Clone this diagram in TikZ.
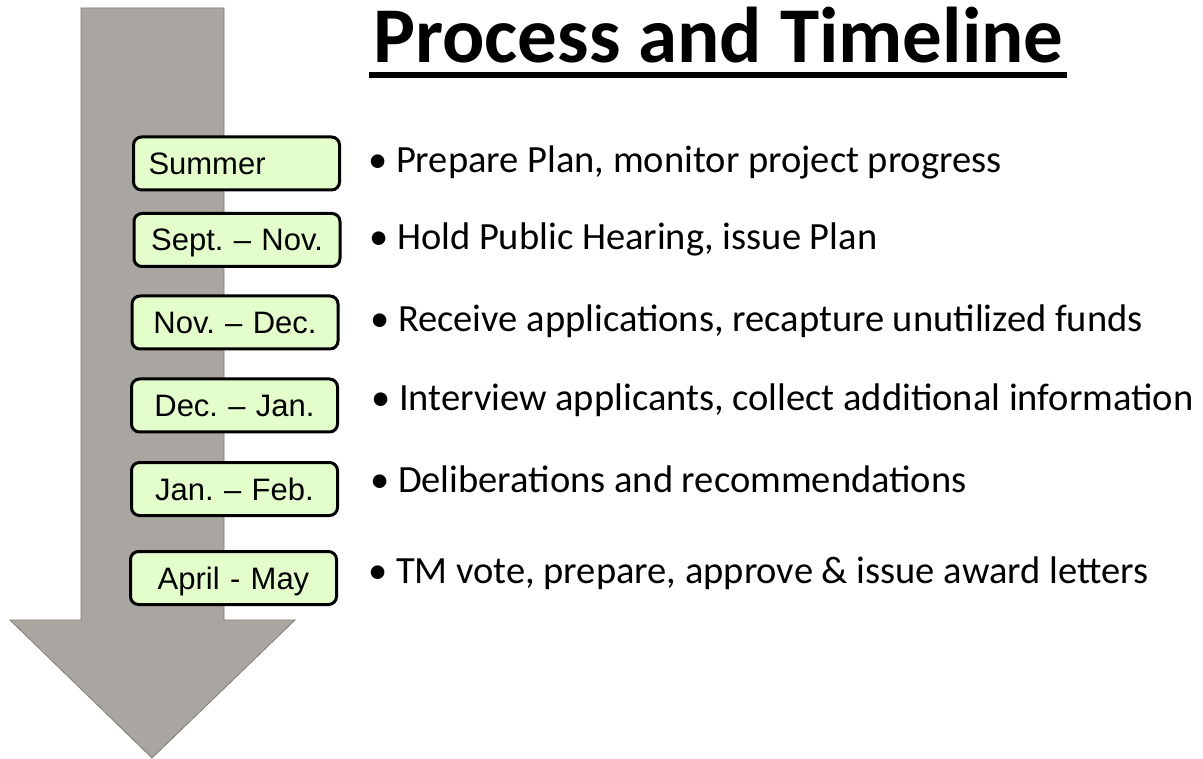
\documentclass[tikz,border=0pt]{standalone}
\usepackage{fontspec}
\setmainfont{Carlito}
\newfontfamily\boxfont{Liberation Sans}
\frenchspacing

\tikzstyle{period-box}=[draw=black, line width=3pt, rounded corners=8pt, fill={box-green}, minimum width=206pt, minimum height=53pt, inner xsep=15pt, text width=176pt, align=center, text height=22pt, text depth=0pt, font=\boxfont\fontsize{31}{36}\selectfont]
\tikzstyle{task-text}=[anchor=base west, inner sep=0pt, font=\fontsize{38.5}{44}\selectfont]
\definecolor{box-green}{HTML}{E3FDCB}
\definecolor{arrow-gray}{HTML}{A9A5A0}
\definecolor{arrow-edge}{HTML}{7F7C78}

\begin{document}
\begin{tikzpicture}[x=1pt, y=-1pt]
      \useasboundingbox (0,0) rectangle (1203,759);
      % big arrow behind the periods
      \draw[arrow-edge, fill={arrow-gray}, line width=0.8pt] (81,8) -- (224,8) -- (224,620) -- (295,620) -- (152,758) -- (10,620) -- (81,620) -- cycle;

      \node (title) at (373,63) [anchor=base west, inner sep=0pt, font=\fontsize{79}{90}\selectfont\bfseries] {Process and Timeline};
      \draw[line width=6pt] ([xshift=-4pt, yshift=-12pt]title.base west) -- ([xshift=3pt, yshift=-12pt]title.base east);

      \node (period:1) at (236.5,163.5) [period-box, align=left] {Summer};
      \node (period:2) at (237,240)   [period-box] {Sept. – Nov.};
      \node (period:3) at (235,322.5) [period-box] {Nov. – Dec.};
      \node (period:4) at (234.5,405.5) [period-box] {Dec. – Jan.};
      \node (period:5) at (234.5,489) [period-box] {Jan. – Feb.};
      \node (period:6) at (233.5,578) [period-box] {April - May};

      \node (task:1) at (368,173) [task-text] {• Prepare Plan, monitor project progress};
      \node (task:2) at (369,250) [task-text] {• Hold Public Hearing, issue Plan};
      \node (task:3) at (370,332) [task-text] {• Receive applications, recapture unutilized funds};
      \node (task:4) at (371,410) [task-text] {• Interview applicants, collect additional information};
      \node (task:5) at (370,492) [task-text] {• Deliberations and recommendations};
      \node (task:6) at (368,583) [task-text] {• TM vote, prepare, approve \& issue award letters};
    \end{tikzpicture}
\end{document}
